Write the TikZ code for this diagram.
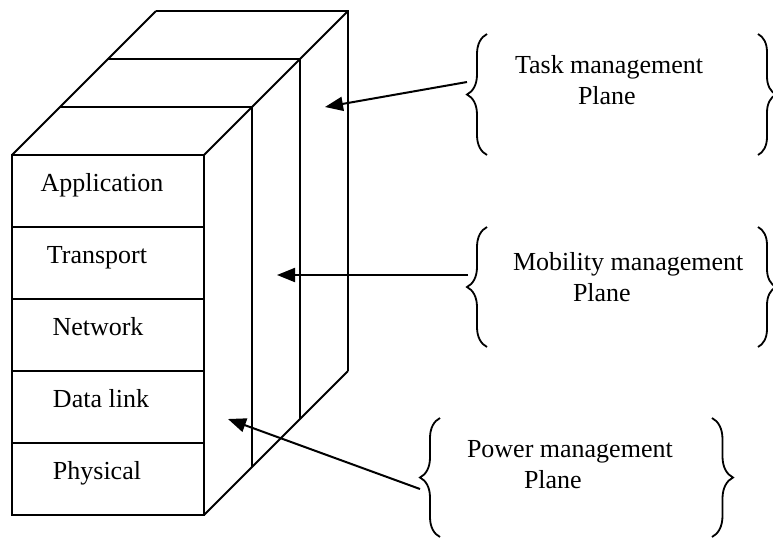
\documentclass[tikz,border=0pt]{standalone}
\usepackage{fontspec}
\setmainfont{Liberation Serif}
\usetikzlibrary{arrows.meta}
\usetikzlibrary{decorations.pathreplacing}

\tikzset{
    layerlabel/.style={anchor=base, inner sep=0pt, font=\fontsize{13}{15.5}\selectfont},
    planelabel/.style={anchor=base west, inner sep=0pt, font=\fontsize{13}{15.5}\selectfont},
    planebrace/.style={line width=0.9pt, decorate, decoration={brace, amplitude=#1}},
    pointer/.style={-{Triangle[length=9pt,width=7pt]}}
}

\begin{document}
\begin{tikzpicture}[x=0.5pt, y=-0.5pt, line width=1pt]
    \useasboundingbox (0,0) rectangle (773,538);
    \draw (12,155) rectangle (204,515);
    \foreach \y in {227,299,371,443}
        \draw (12,\y) -- (204,\y);
    \foreach \k in {1,2,3}
        \draw (12+48*\k,155-48*\k) -- (204+48*\k,155-48*\k) -- (204+48*\k,515-48*\k);
    \draw (12,155) -- (156,11);
    \draw (204,155) -- (348,11);
    \draw (204,515) -- (348,371);
    \node [layerlabel] (app) at (102,191) {Application};
    \node [layerlabel] (trans) at (97,263) {Transport};
    \node [layerlabel] (net) at (98,335) {Network};
    \node [layerlabel] (dlink) at (101,407) {Data link};
    \node [layerlabel] (phys) at (97,479) {Physical};
    \draw [planebrace=10pt] (487,155) -- (487,34);
    \draw [planebrace=9pt] (758,34) -- (758,155);
    \draw [planebrace=10pt] (487,347) -- (487,227);
    \draw [planebrace=9pt] (758,227) -- (758,347);
    \draw [planebrace=10pt] (440,537) -- (440,418);
    \draw [planebrace=10.5pt] (712,418) -- (712,537);
    \node [planelabel] (task) at (514,73) {Task management};
    \node [planelabel] (taskpl) at (577,104) {Plane};
    \node [planelabel] (mob) at (512,270) {Mobility management};
    \node [planelabel] (mobpl) at (572,301) {Plane};
    \node [planelabel] (pow) at (466,457) {Power management};
    \node [planelabel] (powpl) at (523,488) {Plane};
    \coordinate (tasktip) at (467,82);
    \coordinate (mobtip) at (468,275);
    \coordinate (powtip) at (420,489);
    \coordinate (taskend) at (325,107);
    \coordinate (mobend) at (277,275);
    \coordinate (powend) at (228,419);
    \draw [pointer] (tasktip) -- (taskend);
    \draw [pointer] (mobtip) -- (mobend);
    \draw [pointer] (powtip) -- (powend);
\end{tikzpicture}
\end{document}
